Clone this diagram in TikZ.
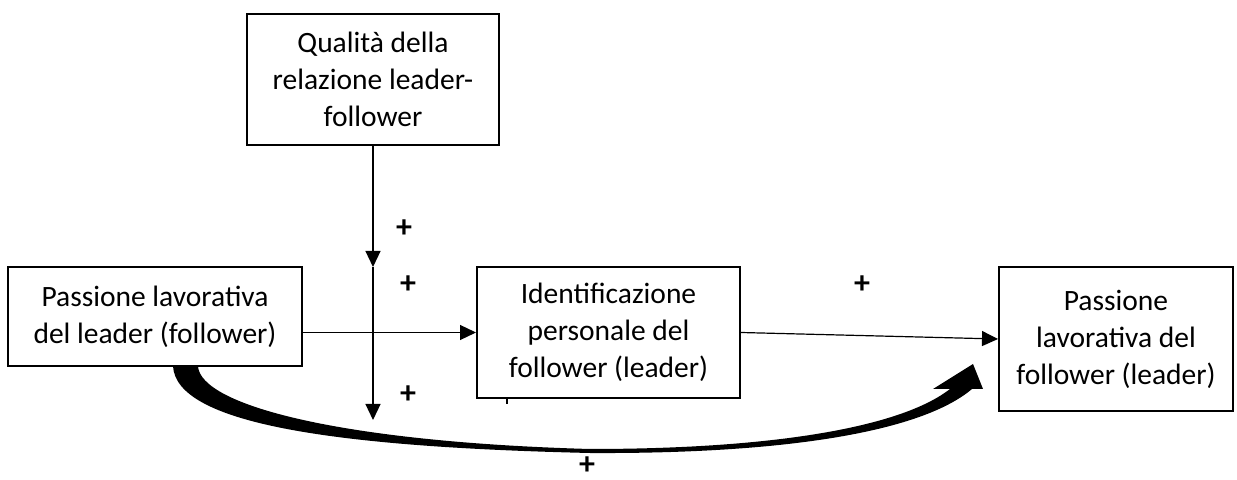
\documentclass[tikz,border=0pt]{standalone}
\usepackage{fontspec}
\setmainfont{Carlito}
\usetikzlibrary{arrows.meta}
\begin{document}
\begin{tikzpicture}[x=0.5pt, y=-0.5pt,
        box/.style  = {draw, line width=1pt, align=center, inner sep=0pt,
                       font=\fontsize{14.75}{18.5}\selectfont},
        conn/.style = {line width=0.6pt, -{Triangle[length=8pt,width=7.5pt]}},
        sign/.style = {inner sep=0pt, font=\fontsize{16}{18.5}\selectfont\bfseries}]
        \useasboundingbox (0,0) rectangle (1237,480);

        % boxes
        \node[box, minimum width=126pt,   minimum height=65.5pt] (qual)  at ( 373, 79.5) {Qualità della\\relazione leader-\\follower};
        \node[box, minimum width=147pt,   minimum height=49.5pt] (lead)  at ( 155,316.5) {Passione lavorativa\\del leader (follower)};
        \node[box, minimum width=131.5pt, minimum height=65.5pt] (ident) at (608.5,332.5) {Identificazione\\personale del\\follower (leader)};
        \node[box, minimum width=117pt,   minimum height=72pt]   (foll)  at (1116, 339) {Passione\\lavorativa del\\follower (leader)};

        % moderator line
        \coordinate (vmid) at (373,267);
        \coordinate (vend) at (373,420);
        \draw[conn] (qual.south) -- (vmid);
        \draw[conn] (vmid) -- (vend);

        % paths
        \draw[conn] (lead.east |- ident.west) -- (ident.west);
        \draw[conn] (ident.east) -- (foll.west);

        % direct effect (thick curved arrow)
        \fill (173,366) .. controls (176,423) and (330,447) .. (590,453)
                        .. controls (780,454) and (920,433) .. (972,389)
              -- (983,389) -- (973,364) -- (933,389) -- (950,389)
                        .. controls (900,428) and (770,449) .. (590,449)
                        .. controls (340,442) and (200,405) .. (198,366) -- cycle;

        % signs
        \node[sign] (s1) at (404,229) {+};
        \node[sign] (s2) at (408,285) {+};
        \node[sign] (s3) at (408,395) {+};
        \node[sign] (s4) at (862,285) {+};
        \node[sign] (s5) at (587,466) {+};
        \draw[line width=0.6pt] (507,399) -- (507,404); % stray mark
\end{tikzpicture}
\end{document}
